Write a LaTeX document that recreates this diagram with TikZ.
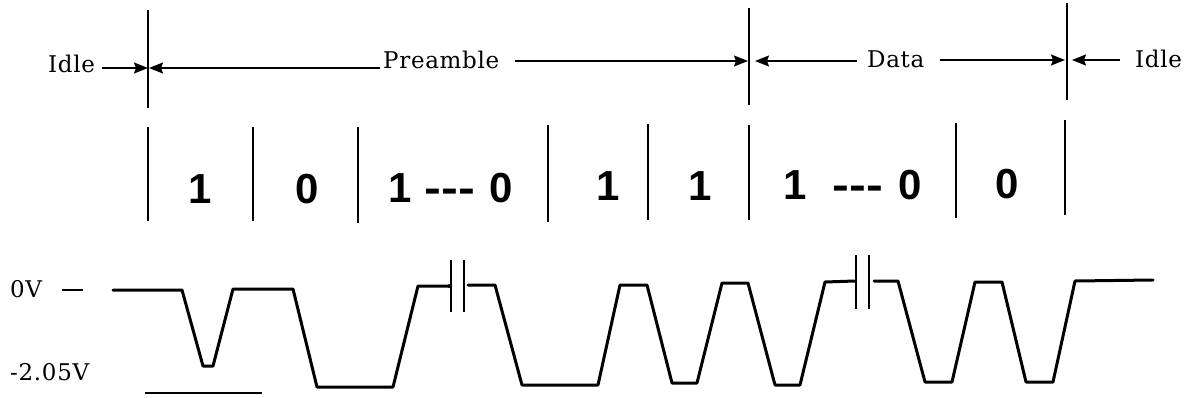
\documentclass[tikz,border=0pt]{standalone}
\usepackage{fontspec}
\usepackage{graphicx}
\usetikzlibrary{arrows.meta}
\newfontfamily\digitfont{Liberation Sans}
\newfontfamily\lblfont{DejaVu Serif}[LetterSpace=3]
\newcommand\lblf{\lblfont\fontsize{23}{28}\selectfont}
\newcommand\digf{\digitfont\bfseries\fontsize{42}{48}\selectfont}
\newcommand\bitdashes{\scalebox{1.2}[1]{-{}-{}-}}
\begin{document}
\begin{tikzpicture}[x=1pt,y=-1pt,
  wave/.style={line width=3pt, line join=round, line cap=round},
  thinline/.style={line width=1.2pt},
  tick/.style={line width=1.8pt},
  arr/.style={line width=1.5pt, -{Stealth[length=14pt,width=11pt,inset=2pt]}},
  lbl/.style={inner sep=0pt, anchor=base west, font=\lblf},
  digit/.style={inner sep=0pt, anchor=base, font=\digf}]
\fill[white] (0,0) rectangle (1189,397);
\useasboundingbox (0,0) rectangle (1189,397);

% boundaries of the frame sections
\coordinate (b1) at (148,68);
\coordinate (b2) at (749,61);
\coordinate (b3) at (1067,60);
\coordinate (b1t) at (148,10);  \coordinate (b1b) at (148,108);
\coordinate (b2t) at (749,8);   \coordinate (b2b) at (749,105);
\coordinate (b3t) at (1067,3);  \coordinate (b3b) at (1067,100);
\draw[thinline] (b1t) -- (b1b);
\draw[thinline] (b2t) -- (b2b);
\draw[thinline] (b3t) -- (b3b);

% section labels
\node[lbl] (idleL) at (48,72) {Idle};
\node[lbl] (pre) at (383,68) {Preamble};
\node[lbl] (data) at (867,67) {Data};
\node[lbl] (idleR) at (1135,67) {Idle};

\draw[arr, shorten <=7pt] (idleL.east |- b1) -- (b1);
\draw[arr, shorten <=3pt, shorten >=1pt] (pre.west |- b1) -- (b1);
\draw[arr, shorten <=15pt, shorten >=1pt] (pre.east |- b2) -- (b2);
\draw[arr, shorten <=10pt, shorten >=6pt] (data.west |- b2) -- (b2);
\draw[arr, shorten <=15pt, shorten >=2pt] (data.east |- b3) -- (b3);
\draw[arr, shorten <=15pt, shorten >=5pt] (idleR.west |- b3) -- (b3);

% bit cells
\foreach \x/\a/\b in {148/127/221, 253/127/221, 358/127/223, 548/125/222,
                      648/124/220, 749/125/220, 956/123/218, 1065/120/215}
  \draw[thinline] (\x,\a) -- (\x,\b);

\node[digit] (d1) at (200.5,203) {1};
\node[digit] (d2) at (307.5,203) {0};
\node[digit, anchor=base west] (d3) at (388.5,202) {1\hspace{12.5pt}\bitdashes\hspace{14.7pt}0};
\node[digit] (d4) at (608.5,200) {1};
\node[digit] (d5) at (700,200) {1};
\node[digit, anchor=base west] (d6) at (783.5,199) {1\hspace{25.5pt}\bitdashes\hspace{15.7pt}0};
\node[digit] (d7) at (1007,198) {0};

% voltage levels
\node[lbl] (v0) at (10,297) {0V};
\node[lbl] (v2) at (10,380) {-2.05V};
\draw[tick] (62,290) -- (83,290);
\draw[tick] (145,393) -- (262,393);

% waveform
\draw[wave] (113,290) -- (182,290) -- (203,366) -- (213,366) -- (233,289) -- (293,289)
  -- (317,387) -- (393,387) -- (418,286) -- (450,286);
\fill (450,286) circle (2.2pt);
\draw[wave] (468,285) -- (495,285) -- (522,385) -- (598,385) -- (620,285) -- (647,285)
  -- (672,383) -- (697,383) -- (722,283) -- (748,283) -- (775,385) -- (800,385)
  -- (825,282) -- (855,281);
\draw[wave] (874,281) -- (898,281) -- (925,382) -- (952,382) -- (975,282) -- (1002,282)
  -- (1026,382) -- (1053,382) -- (1075,281) -- (1153,280);

% break marks
\draw[thinline] (451,260) -- (451,312);
\draw[thinline] (464,260) -- (464,312);
\draw[thinline] (856,255) -- (856,309);
\draw[thinline] (869,255) -- (869,309);
\end{tikzpicture}
\end{document}
